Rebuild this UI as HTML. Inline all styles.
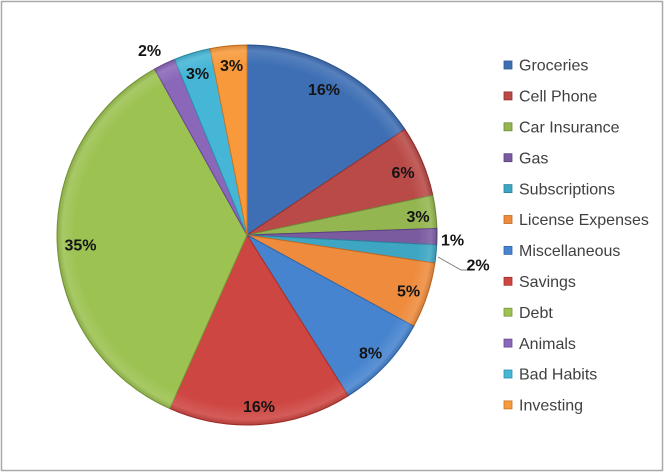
<!DOCTYPE html>
<html><head><meta charset="utf-8"><style>
html,body{margin:0;padding:0;background:#fff;}
svg{display:block;}
</style></head><body>
<svg width="665" height="472" viewBox="0 0 665 472" xmlns="http://www.w3.org/2000/svg">
<rect x="0" y="0" width="665" height="472" fill="#fff"/>
<rect x="1.5" y="1.5" width="661" height="469" fill="#fff" stroke="#aaaaaa" stroke-width="1.5"/>
<defs>
<radialGradient id="shade" cx="247" cy="235" r="190" gradientUnits="userSpaceOnUse">
<stop offset="0.9" stop-color="#fff" stop-opacity="0"/>
<stop offset="0.97" stop-color="#fff" stop-opacity="0.12"/>
<stop offset="1" stop-color="#000" stop-opacity="0.12"/>
</radialGradient>
</defs>
<g stroke-linejoin="round">
<path d="M247,235 L247,45 A190,190 0 0 1 404.9,129.3 Z" fill="#3E6FB4" stroke="#2f5a94" stroke-width="1"/>
<path d="M247,235 L404.9,129.3 A190,190 0 0 1 432.8,195.2 Z" fill="#B94A47" stroke="#93302d" stroke-width="1"/>
<path d="M247,235 L432.8,195.2 A190,190 0 0 1 436.9,228.4 Z" fill="#94B650" stroke="#6f8a38" stroke-width="1"/>
<path d="M247,235 L436.9,228.4 A190,190 0 0 1 436.7,244.9 Z" fill="#7B5BA0" stroke="#5c4180" stroke-width="1"/>
<path d="M247,235 L436.7,244.9 A190,190 0 0 1 434.9,263.1 Z" fill="#3EA6C3" stroke="#2b829c" stroke-width="1"/>
<path d="M247,235 L434.9,263.1 A190,190 0 0 1 413.7,326.2 Z" fill="#EE8B3D" stroke="#c26a24" stroke-width="1"/>
<path d="M247,235 L413.7,326.2 A190,190 0 0 1 348.2,395.8 Z" fill="#4784CF" stroke="#3165a6" stroke-width="1"/>
<path d="M247,235 L348.2,395.8 A190,190 0 0 1 169.7,408.6 Z" fill="#CE4642" stroke="#a3302c" stroke-width="1"/>
<path d="M247,235 L169.7,408.6 A190,190 0 0 1 154.6,69.0 Z" fill="#9CC251" stroke="#799a38" stroke-width="1"/>
<path d="M247,235 L154.6,69.0 A190,190 0 0 1 174.6,59.3 Z" fill="#8A67B8" stroke="#674896" stroke-width="1"/>
<path d="M247,235 L174.6,59.3 A190,190 0 0 1 210.1,48.6 Z" fill="#45B6D6" stroke="#2e90ad" stroke-width="1"/>
<path d="M247,235 L210.1,48.6 A190,190 0 0 1 247,45 Z" fill="#F89A3C" stroke="#c97522" stroke-width="1"/>
<circle cx="247" cy="235" r="190" fill="url(#shade)"/>
</g>
<polyline points="438,257 461,270 467,270" fill="none" stroke="#7f7f7f" stroke-width="1"/>
<g font-family="'Liberation Sans', sans-serif" font-size="16" font-weight="bold" fill="#141414" text-anchor="middle">
<text x="324" y="95">16%</text>
<text x="403" y="178">6%</text>
<text x="418" y="222">3%</text>
<text x="452.5" y="245.5">1%</text>
<text x="478" y="270.5">2%</text>
<text x="408.5" y="296.5">5%</text>
<text x="370.5" y="358.5">8%</text>
<text x="259" y="412">16%</text>
<text x="80.5" y="250.5">35%</text>
<text x="149.5" y="55.8">2%</text>
<text x="197.5" y="79">3%</text>
<text x="231.5" y="71">3%</text>
</g>
<g font-family="'Liberation Sans', sans-serif" font-size="16" fill="#404040">
<rect x="504" y="61" width="8" height="8" fill="#3E6FB4" stroke="#2f5a94" stroke-width="0.8"/>
<text x="519" y="70.7">Groceries</text>
<rect x="504" y="91.9" width="8" height="8" fill="#B94A47" stroke="#93302d" stroke-width="0.8"/>
<text x="519" y="101.6">Cell Phone</text>
<rect x="504" y="122.8" width="8" height="8" fill="#94B650" stroke="#6f8a38" stroke-width="0.8"/>
<text x="519" y="132.5">Car Insurance</text>
<rect x="504" y="153.7" width="8" height="8" fill="#7B5BA0" stroke="#5c4180" stroke-width="0.8"/>
<text x="519" y="163.4">Gas</text>
<rect x="504" y="184.6" width="8" height="8" fill="#3EA6C3" stroke="#2b829c" stroke-width="0.8"/>
<text x="519" y="194.3">Subscriptions</text>
<rect x="504" y="215.5" width="8" height="8" fill="#EE8B3D" stroke="#c26a24" stroke-width="0.8"/>
<text x="519" y="225.2">License Expenses</text>
<rect x="504" y="246.4" width="8" height="8" fill="#4784CF" stroke="#3165a6" stroke-width="0.8"/>
<text x="519" y="256.1">Miscellaneous</text>
<rect x="504" y="277.3" width="8" height="8" fill="#CE4642" stroke="#a3302c" stroke-width="0.8"/>
<text x="519" y="287">Savings</text>
<rect x="504" y="308.2" width="8" height="8" fill="#9CC251" stroke="#799a38" stroke-width="0.8"/>
<text x="519" y="317.9">Debt</text>
<rect x="504" y="339.1" width="8" height="8" fill="#8A67B8" stroke="#674896" stroke-width="0.8"/>
<text x="519" y="348.8">Animals</text>
<rect x="504" y="370" width="8" height="8" fill="#45B6D6" stroke="#2e90ad" stroke-width="0.8"/>
<text x="519" y="379.7">Bad Habits</text>
<rect x="504" y="400.9" width="8" height="8" fill="#F89A3C" stroke="#c97522" stroke-width="0.8"/>
<text x="519" y="410.6">Investing</text>
</g>
</svg>
</body></html>
